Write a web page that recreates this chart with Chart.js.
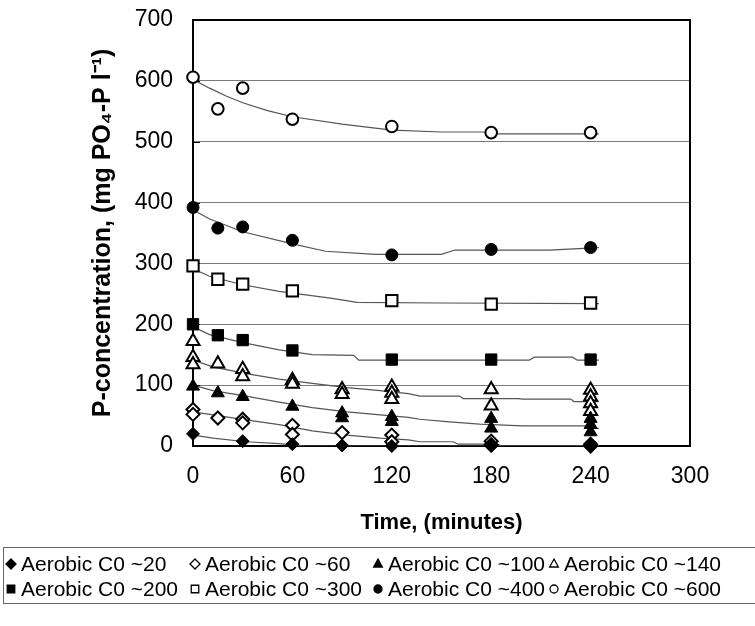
<!DOCTYPE html>
<html>
<head>
<meta charset="utf-8">
<script src="https://cdn.jsdelivr.net/npm/chart.js@4.4.0/dist/chart.umd.min.js"></script>
<style>
    html, body { margin: 0; padding: 0; background: #fff; }
    #contenedor { width: 755px; height: 626px; position: relative; }
</style>
</head>
<body>
<div id="contenedor"><canvas id="grafico" width="755" height="626"></canvas></div>
<script>
// Etiquetas de las series
const etiquetas = ['Aerobic C0 ~20', 'Aerobic C0 ~60', 'Aerobic C0 ~100', 'Aerobic C0 ~140',
                   'Aerobic C0 ~200', 'Aerobic C0 ~300', 'Aerobic C0 ~400', 'Aerobic C0 ~600'];

// Ticks de los ejes
const ticksX = [0, 60, 120, 180, 240, 300];
const ticksY = [0, 100, 200, 300, 400, 500, 600, 700];

// Puntos medidos: tiempo (min) y concentración (mg PO4-P/l)
const t20 = [0, 30, 60, 90, 120, 180, 240];
const p20 = [20, 8, 3, 1, 0, 0, 0];
const t60 = [0, 0, 15, 30, 30, 60, 60, 90, 120, 120, 180, 180, 240, 240];
const p60 = [60, 52, 46, 44, 38, 34, 19, 22, 18, 7, 8, 2, 3, 0];
const t100 = [0, 15, 30, 60, 90, 90, 120, 120, 180, 180, 240, 240, 240];
const p100 = [98, 87, 81, 65, 54, 46, 48, 40, 45, 29, 45, 35, 23];
const t140 = [0, 0, 0, 15, 30, 30, 60, 60, 90, 90, 120, 120, 120, 180, 180, 240, 240, 240, 240];
const p140 = [172, 146, 134, 135, 126, 114, 108, 102, 93, 85, 97, 87, 77, 93, 66, 92, 81, 70, 57];
const t200 = [0, 15, 30, 60, 120, 180, 240];
const p200 = [200, 182, 174, 157, 142, 142, 142];
const t300 = [0, 15, 30, 60, 120, 180, 240];
const p300 = [296, 274, 266, 255, 239, 233, 235];
const t400 = [0, 15, 30, 60, 120, 180, 240];
const p400 = [392, 358, 360, 338, 314, 323, 326];
const t600 = [0, 15, 30, 60, 120, 180, 240];
const p600 = [606, 554, 588, 537, 525, 515, 515];

// Curvas de ajuste (modelo)
const a20t = [0, 12, 32, 52, 68, 245];
const a20p = [18, 13, 7, 4, 0, 0];
const a60t = [0, 12, 32, 52, 72, 93, 113, 130, 137, 157, 160, 183, 187, 245];
const a60p = [56, 51, 43, 35, 25, 18, 13, 10, 7, 7, 3, 3, 0, 0];
const a100t = [0, 12, 32, 52, 72, 93, 113, 130, 137, 153, 173, 199, 237, 240, 245];
const a100p = [100, 91, 82, 72, 63, 56, 51, 47, 44, 40, 36, 33, 33, 29, 29];
const a140t = [0, 12, 32, 52, 72, 93, 113, 130, 137, 161, 163, 196, 199, 228, 230, 245];
const a140p = [141, 130, 119, 110, 103, 96, 91, 86, 82, 82, 78, 78, 77, 77, 73, 73];
const a200t = [0, 10, 30, 52, 72, 97, 100, 203, 206, 229, 232, 245];
const a200p = [196, 183, 170, 158, 150, 149, 141, 141, 146, 146, 141, 141];
const a300t = [0, 10, 30, 52, 83, 99, 150, 245];
const a300p = [291, 279, 265, 254, 243, 236, 235, 234];
const a400t = [0, 10, 30, 60, 80, 110, 150, 158, 215, 245];
const a400p = [388, 373, 352, 332, 320, 315, 315, 322, 322, 326];
const a600t = [0, 10, 20, 30, 45, 60, 90, 120, 150, 175, 180, 245];
const a600p = [602, 588, 575, 564, 551, 541, 529, 519, 516, 516, 513, 513];

const fuente = '"Liberation Sans", Arial, sans-serif';

function puntos(ts, ps) {
    return ts.map(function(t, i) { return { x: t, y: ps[i] }; });
}

// Serie de marcadores
function serie(etiqueta, ts, ps, estilo, radio, relleno) {
    return {
        label: etiqueta,
        data: puntos(ts, ps),
        showLine: false,
        pointStyle: estilo,
        pointRadius: radio,
        pointHoverRadius: radio,
        pointBackgroundColor: relleno ? '#000' : '#fff',
        pointBorderColor: '#000',
        pointBorderWidth: relleno ? 1 : 2,
        clip: false,
        order: 1,
        relleno: relleno
    };
}

// Curva de ajuste sin marcadores
function ajuste(ts, ps) {
    return {
        label: '',
        data: puntos(ts, ps),
        showLine: true,
        pointRadius: 0,
        borderColor: '#555',
        borderWidth: 1.2,
        fill: false,
        tension: 0,
        order: 2,
        esAjuste: true
    };
}

const datasets = [
    ajuste(a20t, a20p), ajuste(a60t, a60p), ajuste(a100t, a100p), ajuste(a140t, a140p),
    ajuste(a200t, a200p), ajuste(a300t, a300p), ajuste(a400t, a400p), ajuste(a600t, a600p),
    serie(etiquetas[0], t20, p20, 'rectRot', 6.5, true),
    serie(etiquetas[1], t60, p60, 'rectRot', 6.5, false),
    serie(etiquetas[2], t100, p100, 'triangle', 7.5, true),
    serie(etiquetas[3], t140, p140, 'triangle', 7.5, false),
    serie(etiquetas[4], t200, p200, 'rect', 8, true),
    serie(etiquetas[5], t300, p300, 'rect', 8, false),
    serie(etiquetas[6], t400, p400, 'circle', 6, true),
    serie(etiquetas[7], t600, p600, 'circle', 5.8, false)
];

// Marco del área de trazado y marcas interiores del eje Y
const marcoPlugin = {
    id: 'marco',
    beforeDatasetsDraw: function(chart) {
        const ctx = chart.ctx;
        const a = chart.chartArea;
        ctx.save();
        ctx.strokeStyle = '#000';
        ctx.lineWidth = 1;
        chart.scales.y.ticks.forEach(function(tk) {
            const y = Math.round(chart.scales.y.getPixelForValue(tk.value)) + 0.5;
            ctx.beginPath();
            ctx.moveTo(a.left, y);
            ctx.lineTo(a.left + 7, y);
            ctx.stroke();
        });
        ctx.lineWidth = 2;
        ctx.strokeRect(a.left, a.top, a.right - a.left, a.bottom - a.top);
        ctx.restore();
    }
};

function dibujarMarca(ctx, estilo, x, y, r) {
    ctx.beginPath();
    if (estilo === 'rectRot') {
        ctx.moveTo(x, y - r); ctx.lineTo(x + r, y); ctx.lineTo(x, y + r); ctx.lineTo(x - r, y);
    } else if (estilo === 'triangle') {
        ctx.moveTo(x, y - r); ctx.lineTo(x + r * 0.87, y + r * 0.6); ctx.lineTo(x - r * 0.87, y + r * 0.6);
    } else if (estilo === 'rect') {
        ctx.rect(x - r * 0.75, y - r * 0.75, r * 1.5, r * 1.5);
    } else {
        ctx.arc(x, y, r * 0.8, 0, Math.PI * 2);
    }
    ctx.closePath();
    ctx.fill();
    ctx.stroke();
}

// Leyenda con recuadro, 2 filas x 4 columnas
const leyendaPlugin = {
    id: 'leyenda',
    afterDraw: function(chart) {
        const ctx = chart.ctx;
        const colX = [11, 195, 378, 554];
        const filaY = [564, 589];
        ctx.save();
        ctx.strokeStyle = '#666';
        ctx.lineWidth = 1;
        ctx.strokeRect(3.5, 547.5, 770, 56);
        ctx.font = '21px ' + fuente;
        ctx.textBaseline = 'middle';
        const series = chart.data.datasets.filter(function(d) { return !d.esAjuste; });
        series.forEach(function(ds, i) {
            const x = colX[i % 4];
            const y = filaY[Math.floor(i / 4)];
            ctx.fillStyle = ds.relleno ? '#000' : '#fff';
            ctx.strokeStyle = '#000';
            ctx.lineWidth = 1.3;
            dibujarMarca(ctx, ds.pointStyle, x, y, 5);
            ctx.fillStyle = '#000';
            ctx.fillText(ds.label, x + 10, y + 1);
        });
        ctx.restore();
    }
};

const ctx = document.getElementById('grafico').getContext('2d');
const chart = new Chart(ctx, {
    type: 'scatter',
    data: { datasets: datasets },
    plugins: [marcoPlugin, leyendaPlugin],
    options: {
        responsive: false,
        animation: false,
        events: [],
        layout: { padding: { left: 0, right: 65, top: 20, bottom: 80 } },
        plugins: {
            legend: { display: false },
            tooltip: { enabled: false }
        },
        scales: {
            x: {
                type: 'linear',
                min: 0,
                max: 300,
                afterFit: function(scale) { scale.height = 100; },
                afterBuildTicks: function(scale) {
                    scale.ticks = ticksX.map(function(v) { return { value: v }; });
                },
                grid: { display: false, drawTicks: false },
                border: { display: false },
                ticks: {
                    color: '#000',
                    padding: 17,
                    maxRotation: 0,
                    font: { family: fuente, size: 23 }
                },
                title: {
                    display: true,
                    text: 'Time, (minutes)',
                    color: '#000',
                    font: { family: fuente, size: 22, weight: 'bold' },
                    padding: { top: 4, bottom: 10 }
                }
            },
            y: {
                type: 'linear',
                min: 0,
                max: 700,
                afterFit: function(scale) { scale.width = 193; },
                afterBuildTicks: function(scale) {
                    scale.ticks = ticksY.map(function(v) { return { value: v }; });
                },
                grid: {
                    color: '#7a7a7a',
                    lineWidth: 1,
                    drawTicks: true,
                    tickLength: 20,
                    tickColor: 'rgba(0,0,0,0)'
                },
                border: { display: false },
                ticks: {
                    color: '#000',
                    padding: 0,
                    font: { family: fuente, size: 23 }
                },
                title: {
                    display: true,
                    text: 'P-concentration, (mg PO\u2084-P l\u207B\u00B9)',
                    color: '#000',
                    font: { family: fuente, size: 25, weight: 'bold' },
                    padding: { top: 88, bottom: 0 }
                }
            }
        }
    }
});
</script>
</body>
</html>
